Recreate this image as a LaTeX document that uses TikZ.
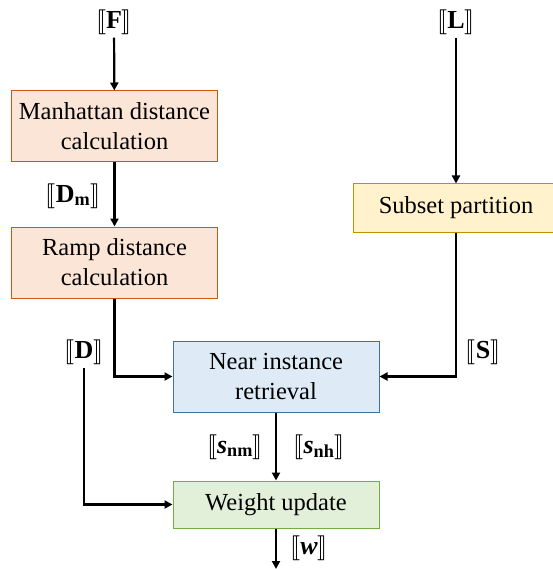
\documentclass[tikz,border=0pt]{standalone}
\usepackage{amsmath,amssymb}
\usepackage{stmaryrd}
\usepackage{fontspec}
\setmainfont{Liberation Serif}
\usepackage{xcolor}
\usepackage{tikz}
\usetikzlibrary{arrows.meta,positioning,calc}

\definecolor{distfill}{HTML}{FBE5D6}
\definecolor{distline}{HTML}{C55A11}
\definecolor{partfill}{HTML}{FFF2CC}
\definecolor{partline}{HTML}{BF9000}
\definecolor{nearfill}{HTML}{DEEBF7}
\definecolor{nearline}{HTML}{41719C}
\definecolor{wfill}{HTML}{E2F0D9}
\definecolor{wline}{HTML}{70AD47}

\begin{document}
\begin{tikzpicture}[
x=1pt,
y=-1pt,
every node/.style={font=\fontsize{24.5}{30}\selectfont},
proc/.style={rectangle,draw,line width=1pt,align=center,inner sep=0pt,minimum width=206pt},
distbox/.style={proc,draw=distline,fill=distfill,minimum height=71pt},
partbox/.style={proc,draw=partline,fill=partfill,minimum height=48pt},
nearbox/.style={proc,draw=nearline,fill=nearfill,minimum height=71pt},
wbox/.style={proc,draw=wline,fill=wfill,minimum height=47pt},
arr/.style={-{Triangle[length=8pt,width=8pt]},line width=2.2pt},
lbl/.style={font=\fontsize{26}{30}\selectfont,inner sep=3pt}
]
\useasboundingbox (0,0) rectangle (552,569);

\node[lbl] (F) at (114,22) {$\llbracket\mathbf{F}\rrbracket$};
\node[distbox] (man) at (114.5,126.5) {Manhattan distance\\calculation};
\node[lbl] (Dm) at (73,196) {$\llbracket\mathbf{D}_{\mathbf{m}}\rrbracket$};
\node[distbox] (ramp) at (114.5,262.5) {Ramp distance\\calculation};
\node[lbl] (L) at (456,22) {$\llbracket\mathbf{L}\rrbracket$};
\node[partbox] (subset) at (456,208) {Subset partition};
\node[lbl] (D) at (84,352) {$\llbracket\mathbf{D}\rrbracket$};
\node[lbl] (S) at (483,352) {$\llbracket\mathbf{S}\rrbracket$};
\node[nearbox] (near) at (276,376.5) {Near instance\\retrieval};
\node[lbl] (snm) at (235,447) {$\llbracket\textbf{\textit{s}}_{\mathbf{nm}}\rrbracket$};
\node[lbl] (snh) at (319,447) {$\llbracket\textbf{\textit{s}}_{\mathbf{nh}}\rrbracket$};
\node[wbox] (weight) at (276,504.5) {Weight update};
\node[lbl] (w) at (309,548) {$\llbracket\textbf{\textit{w}}\rrbracket$};
\coordinate (out) at (276,569);

\draw[arr] (F) -- (man);
\draw[arr] (man) -- (ramp);
\draw[arr] (L) -- (subset);
\draw[arr] (ramp.south) |- (near.west);
\draw[arr] (subset.south) |- (near.east);
\draw[arr] (D.south) |- (weight.west);
\draw[arr] (near) -- (weight);
\draw[arr] (weight) -- (out);
\end{tikzpicture}
\end{document}
